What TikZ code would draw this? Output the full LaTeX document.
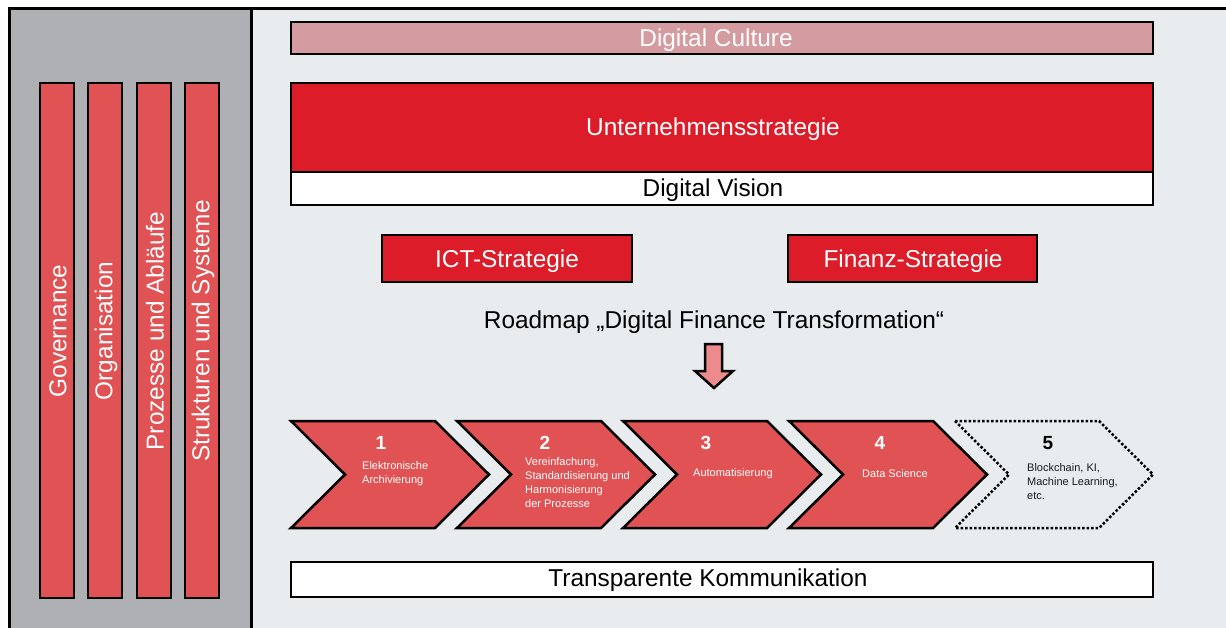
\documentclass[tikz,border=0pt]{standalone}
\usepackage{fontspec}
\setmainfont{Liberation Sans}
\begin{document}
\begin{tikzpicture}[x=1pt,y=-1pt,
  box/.style={draw=black,line width=2.5pt},
  big/.style={font=\fontsize{24.4}{27}\selectfont},
  small/.style={font=\fontsize{11}{14}\selectfont,align=left,anchor=west,inner sep=0pt},
  num/.style={font=\bfseries\fontsize{19}{20}\selectfont,inner sep=0pt},
  chev/.style={draw=black,line width=2.5pt,fill=barred,line join=miter},
]
\definecolor{panelgray}{HTML}{AEB0B4}
\definecolor{lightbg}{HTML}{E8ECEF}
\definecolor{barred}{HTML}{E05253}
\definecolor{culture}{HTML}{D49BA0}
\definecolor{strong}{HTML}{DC1C28}
\definecolor{arrowred}{HTML}{EC8A8C}
\definecolor{darktext}{HTML}{1A1A1A}
\useasboundingbox (0,0) rectangle (1226,628);
\fill[white] (0,0) rectangle (1226,628);
% frame
\fill[lightbg] (9,9) rectangle (1230,632);
\fill[panelgray] (9,9) rectangle (251,632);
\draw[line width=3pt] (9,635) -- (9,9) -- (1235,9);
\draw[line width=3pt] (251,9) -- (251,635);
% vertical bars
\foreach \xl/\t [count=\i] in {40/Governance,88/Organisation,137/{Prozesse und Abläufe},185/{Strukturen und Systeme}}{
  \draw[box,fill=barred] (\xl,83) rectangle ++(34,515);
  \node[big,white,rotate=90] (bar\i) at (\xl+18,331) {\t};
}
% top boxes
\draw[box,fill=culture] (291,22) rectangle (1153,54);
\node[big,white] (culture) at (716,40) {Digital Culture};
\draw[box,fill=strong] (291,83) rectangle (1153,172);
\node[big,white] (strategy) at (713,129) {Unternehmensstrategie};
\draw[box,fill=white] (291,172) rectangle (1153,205);
\node[big] (vision) at (713,190) {Digital Vision};
\draw[box,fill=strong] (382,235) rectangle (632,282);
\node[big,white] (ict) at (507,261) {ICT-Strategie};
\draw[box,fill=strong] (788,235) rectangle (1037,282);
\node[big,white] (fin) at (913,261) {Finanz-Strategie};
\node[big] (roadmap) at (714,322) {Roadmap „Digital Finance Transformation“};
% block arrow
\draw[line width=2.5pt,fill=arrowred,line join=miter] (705,344) -- (722,344) -- (722,371) -- (733,371) -- (714,388) -- (695,371) -- (705,371) -- cycle;
% chevrons
\foreach \xl in {291,457,623,789}{
  \draw[chev] (\xl,421) -- (\xl+144,421) -- (\xl+198,474.5) -- (\xl+144,528) -- (\xl,528) -- (\xl+54,474.5) -- cycle;
}
\draw[line width=2.5pt,dotted] (955,421) -- (955+144,421) -- (955+198,474.5) -- (955+144,528) -- (955,528) -- (955+54,474.5) -- cycle;
\node[num,white] (n1) at (381,443) {1};
\node[num,white] (n2) at (545,443) {2};
\node[num,white] (n3) at (706,443) {3};
\node[num,white] (n4) at (880,443) {4};
\node[num,black] (n5) at (1048,443) {5};
\node[small,white] (t1) at (362,474) {Elektronische\\Archivierung};
\node[small,white] (t2) at (525,483) {Vereinfachung,\\Standardisierung und\\Harmonisierung\\der Prozesse};
\node[small,white] (t3) at (693,474) {Automatisierung};
\node[small,white] (t4) at (862,474) {Data Science};
\node[small,darktext] (t5) at (1027,482) {Blockchain, KI,\\Machine Learning,\\etc.};
% bottom
\draw[box,fill=white] (291,562) rectangle (1153,597);
\node[big] (komm) at (708,580) {Transparente Kommunikation};
\end{tikzpicture}
\end{document}
